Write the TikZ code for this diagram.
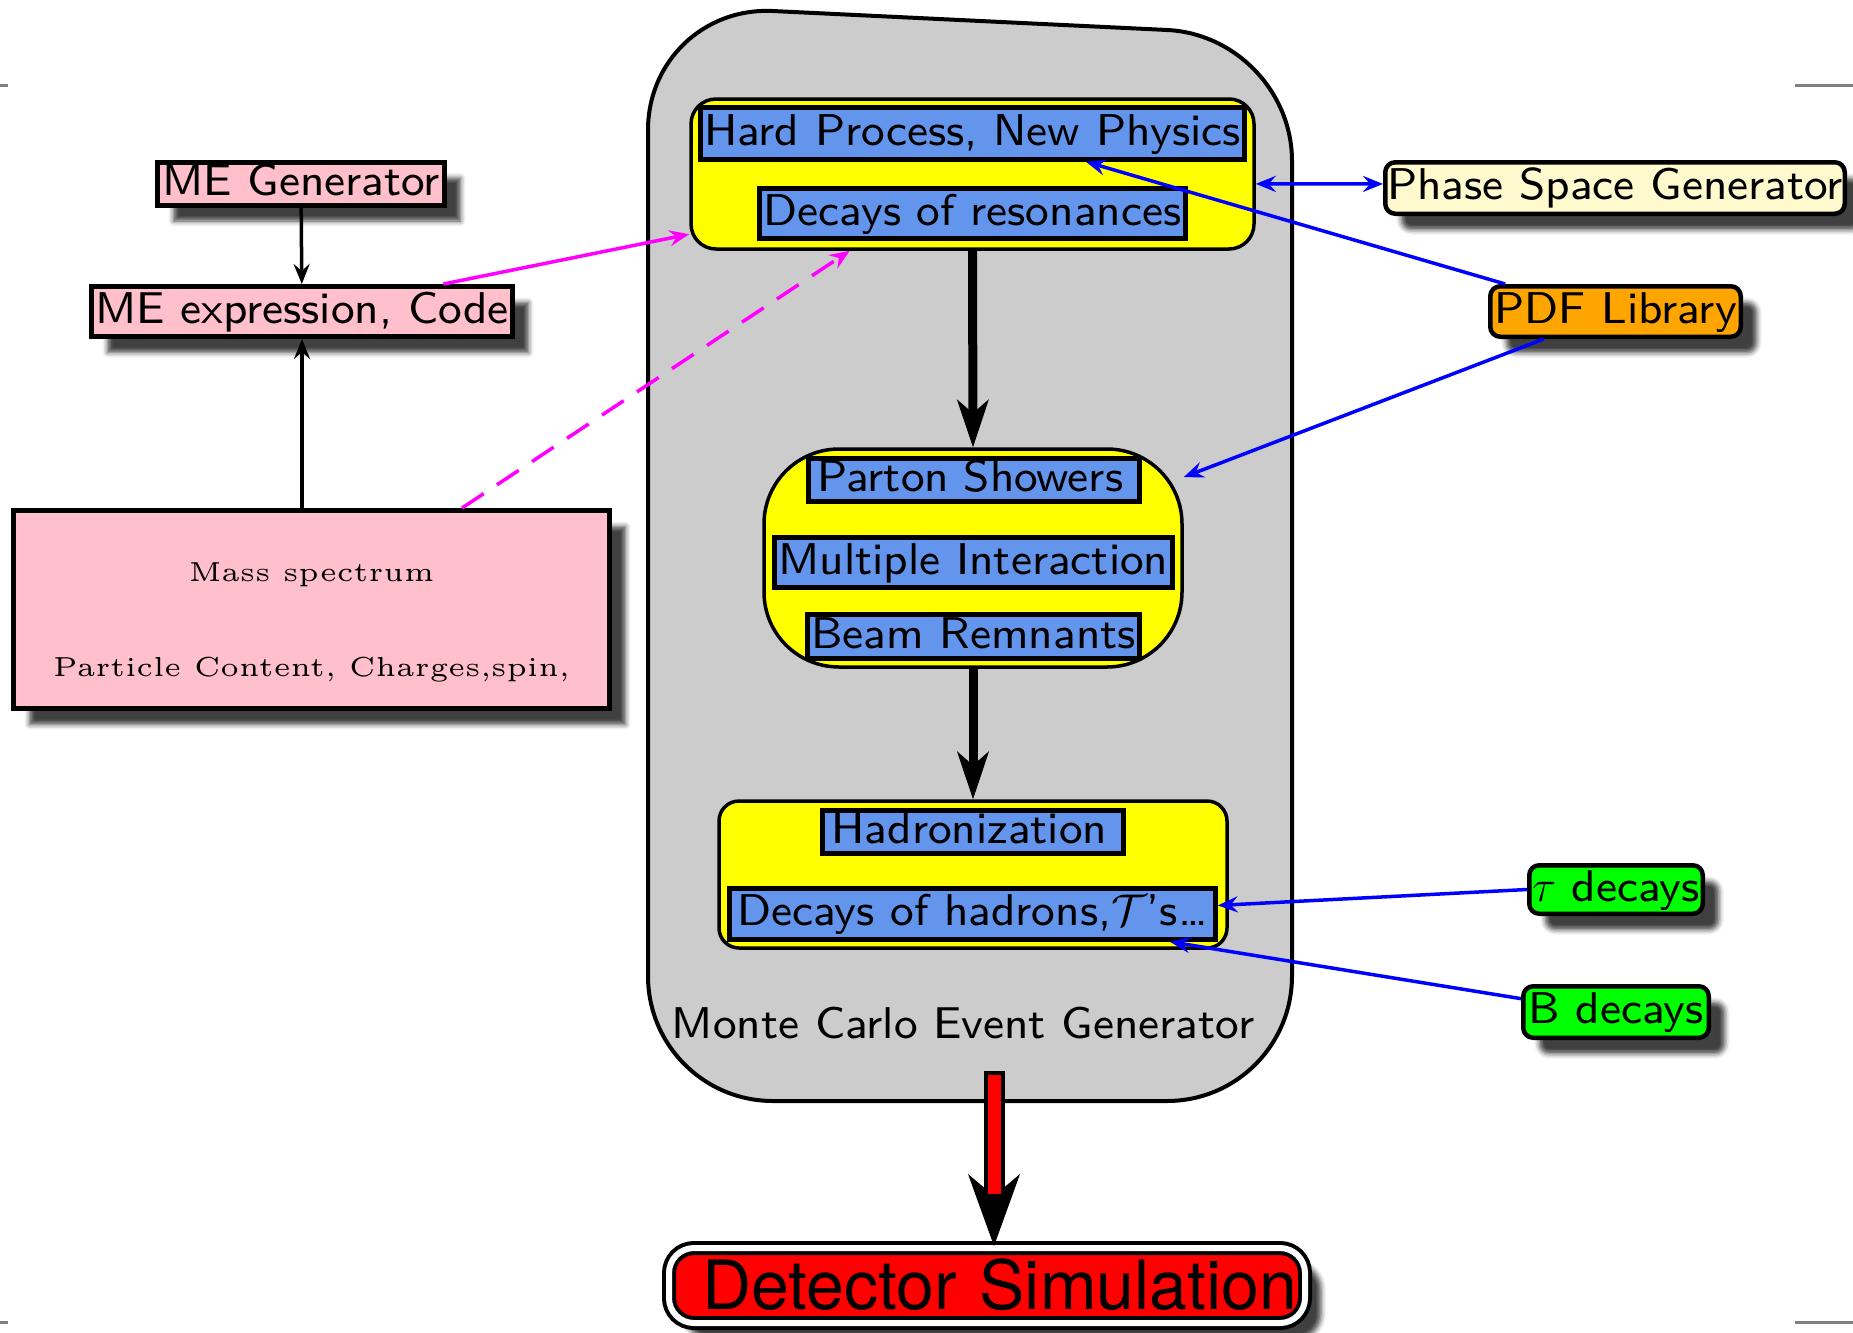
\RequirePackage{fix-cm}
\documentclass[tikz,border=0pt]{standalone}
\usepackage{fontspec}
\usetikzlibrary{arrows.meta,shadows.blur}
\setsansfont{lmsans8-regular.otf}
\newfontfamily\detfont{TeX Gyre Heros}
\newfontfamily\specfont{lmroman5-regular.otf}
\definecolor{cornflower}{RGB}{100,149,237}
\definecolor{lemon}{RGB}{255,250,205}
\definecolor{pinkish}{RGB}{255,192,203}
\definecolor{orangebox}{RGB}{255,165,0}
\definecolor{mcgray}{RGB}{204,204,204}
\definecolor{ylw}{RGB}{255,255,0}
\definecolor{mgt}{RGB}{255,0,255}

\begin{document}
\begin{tikzpicture}[x=1pt,y=-1pt,
		>={Stealth[length=20pt,width=16pt,inset=7pt]},
		box/.style={draw, line width=4.5pt, inner sep=0pt, font=\fontsize{44.5}{54}\selectfont\sffamily, text height=33pt, text depth=10pt},
		group/.style={draw, line width=3.5pt, fill=ylw},
		stage/.style={box, fill=cornflower},
		shade/.style={blur shadow={shadow xshift=16pt, shadow yshift=-16pt, shadow blur radius=5pt, shadow opacity=75}},
		input/.style={box, line width=5pt, fill=pinkish, shade},
		extern/.style={box, rounded corners=10pt, shade},
		spectext/.style={font=\specfont\fontsize{27.5}{32}\selectfont, anchor=base},
		feed/.style={blue, line width=3.5pt, ->},
		link/.style={line width=3.5pt, ->},
		flow/.style={line width=9pt, -{Stealth[length=48pt,width=32pt,inset=14pt,line width=1pt]}}]
	\useasboundingbox (0,0) rectangle (1853,1333);
	% crop marks
	\foreach \y in {85,1322} {
			\draw[black!50, line width=3pt] (0,\y) -- (8,\y);
			\draw[black!50, line width=3pt] (1795,\y) -- (1853,\y);
		}
	% Monte Carlo frame
	\filldraw[fill=mcgray, line width=4pt, rounded corners=125pt]
	(648,1101) -- (648,5) -- (1292,36) -- (1292,1101) -- cycle;
	\node[font=\fontsize{44.5}{54}\selectfont\sffamily, anchor=base] (mcname) at (963,1038) {Monte Carlo Event Generator};
	% Stage groups
	\node[group, rounded corners=25pt, minimum width=563pt, minimum height=150pt] (grpA) at (972.5,174) {};
	\node[group, rounded corners=75pt, minimum width=418pt, minimum height=218pt] (grpB) at (973,558) {};
	\node[group, rounded corners=20pt, minimum width=508pt, minimum height=147pt] (grpC) at (973,874.5) {};
	% Stages
	\node[stage, minimum width=544pt, minimum height=52pt] (hard) at (972.5,133.5) {Hard Process, New Physics};
	\node[stage, minimum width=426pt, minimum height=50pt] (res) at (972.5,213.5) {Decays of resonances};
	\node[stage, text width=313pt, align=left, inner xsep=9pt, minimum height=41pt] (shower) at (974,480) {\mbox{Parton Showers}};
	\node[stage, minimum width=398pt, minimum height=50pt] (multi) at (973.5,562.5) {Multiple Interaction};
	\node[stage, minimum width=332pt, minimum height=44pt] (beam) at (973.5,636.5) {Beam Remnants};
	\node[stage, text width=283pt, align=left, inner xsep=9pt, minimum height=43pt] (hadr) at (973,832) {\mbox{Hadronization}};
	\node[stage, minimum width=486pt, minimum height=51pt] (hdec) at (972.5,914) {Decays of hadrons,$\mathcal{T}$'s\ldots};
	% Matrix element side
	\node[input, minimum width=287pt, minimum height=42pt] (megen) at (301,183.5) {ME Generator};
	\node[input, minimum width=421pt, minimum height=50pt] (code) at (302,311.5) {ME expression, Code};
	\node[input, minimum width=596pt, minimum height=198pt] (spec) at (311.5,609.5) {};
	\node[spectext] (mass) at (311.5,581) {Mass spectrum};
	\node[spectext] (content) at (311.5,676) {Particle Content, Charges,spin,};
	% External libraries
	\node[extern, fill=lemon, minimum width=459.5pt, minimum height=51.5pt] (phase) at (1615,188) {Phase Space Generator};
	\node[extern, fill=orangebox, minimum width=250.5pt, minimum height=50.5pt] (pdf) at (1615.5,311.5) {PDF Library};
	\node[extern, fill=green, minimum width=173.5pt, minimum height=48.5pt] (tau) at (1616,889.5) {$\tau$ decays};
	\node[extern, fill=green, minimum width=185.5pt, minimum height=51.5pt] (bdec) at (1616,1012) {B decays};
	% Detector
	\node[draw, line width=4pt, double=white, double distance=6pt, fill=red, rounded corners=25pt, inner ysep=0pt, inner xsep=8pt,
		text width=620pt, align=right, minimum height=75pt, font=\detfont\fontsize{68}{70}\selectfont,
		text height=48pt, text depth=1pt, shade] (det) at (987,1285.5) {Detector Simulation};
	% Flow through the generator
	\draw[flow] (grpA.south) -- (grpB.north);
	\draw[flow] (grpB.south) -- (grpC.north);
	% Matrix element inputs
	\draw[link] (megen) -- (code);
	\draw[link] (code.south |- spec.north) -- (code.south);
	\draw[link, mgt] (code.11) -- (grpA.192);
	\draw[link, mgt, dash pattern=on 26pt off 16pt] (spec.34) -- (grpA.212);
	% Library links
	\draw[feed, <->] (grpA.358.6) -- (phase.179);
	\draw[feed] (pdf.166) -- (hard.346);
	\draw[feed] (pdf.201) -- (grpB.21);
	\draw[feed] (tau.west) -- (hdec.2);
	\draw[feed] (bdec.172) -- (hdec.352);
	% Output
	\coordinate (mcbot) at (994,1071);
	\draw[line width=21pt, -{Stealth[length=72pt,width=52pt,inset=22pt,line width=1pt]}] (mcbot) -- (mcbot |- det.north);
	\draw[red, line width=13pt, shorten <=4pt, shorten >=52pt] (mcbot) -- (mcbot |- det.north);
\end{tikzpicture}
\end{document}
